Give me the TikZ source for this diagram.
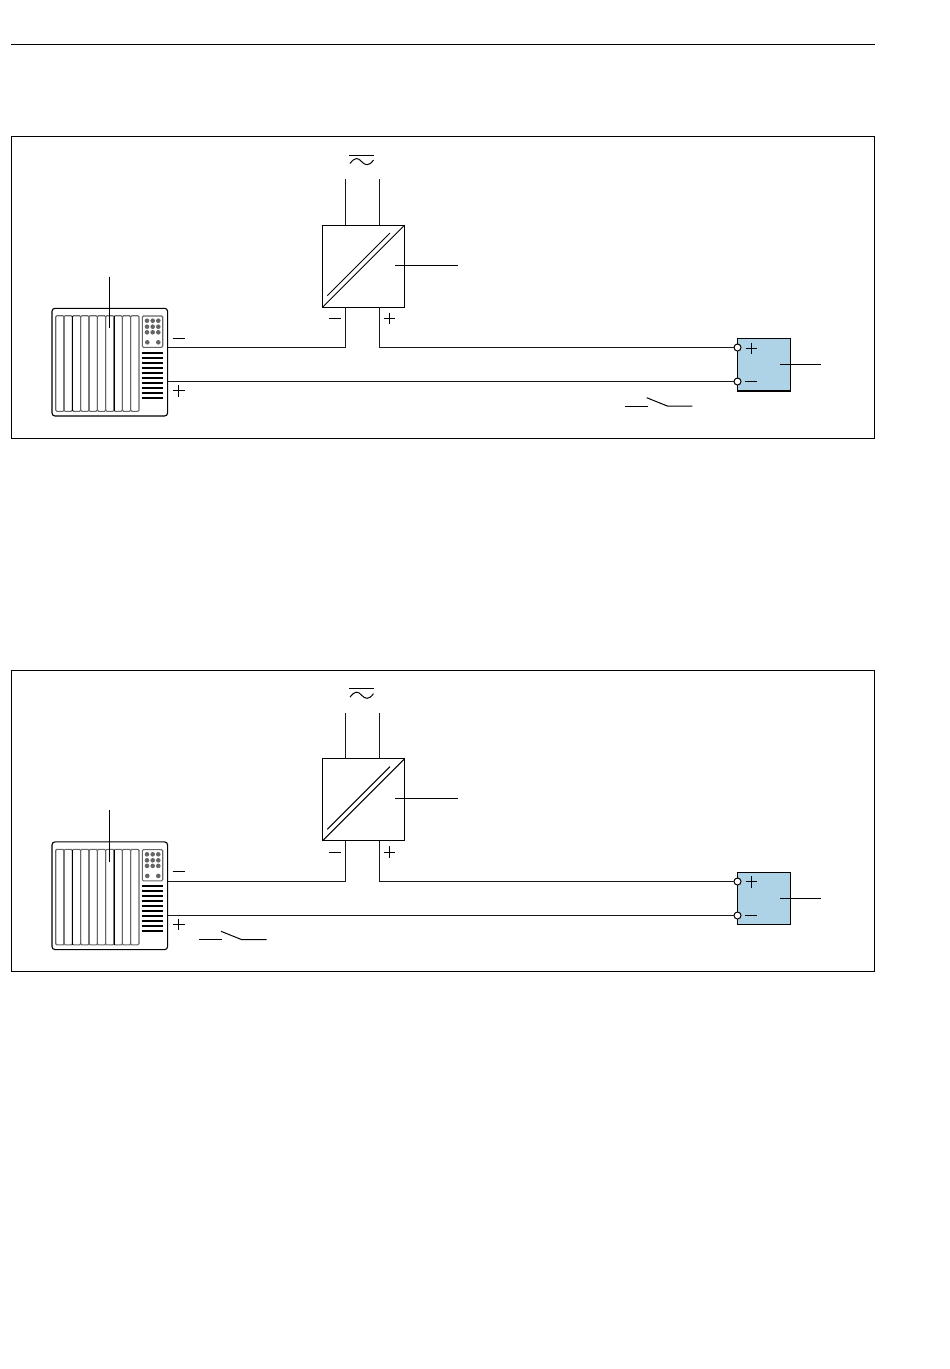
\documentclass[tikz,border=0pt]{standalone}
\definecolor{sensorblue}{RGB}{174,211,231}
\tikzset{
  wire/.style={line width=1.1pt,black!90},
  thin wire/.style={line width=1pt,black},
  frame/.style={draw=black,line width=0.8pt},
  block/.style={draw=black,line width=1.1pt,inner sep=0pt,outer sep=0pt,anchor=north west},
  sensor/.style={block,fill=sensorblue},
  slot/.style={draw=black!60,line width=1.1pt,rounded corners=1.2pt},
  slot dark/.style={draw=black,line width=1.2pt},
  led/.style={circle,fill=black!60,inner sep=0pt,minimum size=4.6pt},
  term/.style={circle,draw=black,fill=white,line width=1pt,inner sep=0pt,minimum size=7pt},
  vent/.style={line width=1.9pt,black}
}
% #1 prefix, #2 vertical offset, #3 switch x offset, #4 fine shift of the wiring
\newcommand{\drawpanel}[4]{%
\begin{scope}[shift={(0,#2)}]
  \node[frame,rectangle,inner sep=0pt,outer sep=0pt,anchor=north west,minimum width=863.6pt,minimum height=301.6pt] (#1frame) at (11,136.4) {};
  % AC supply symbol
  \draw[thin wire] (349.3,155.3) -- (374,155.3);
  \draw[thin wire] (350,163.5) .. controls (355,157) and (358,157.5) .. (361.5,161.5) .. controls (365,165.5) and (369,166.5) .. (373.5,160);
  % converter
  \node[block,minimum width=82pt,minimum height=82pt] (#1conv) at (322.5,225.2) {};
  \coordinate (#1acl) at (345.5,179);
  \coordinate (#1acr) at (379.5,179);
  \draw[wire] (#1acl) -- (#1acl |- #1conv.north);
  \draw[wire] (#1acr) -- (#1acr |- #1conv.north);
  \draw[thin wire] (#1conv.south west) -- (#1conv.north east);
  \draw[thin wire] (327.3,295.7) -- (390,233);
  \coordinate (#1convlead) at (458,265);
  \draw[thin wire] (395,265) -- (#1convlead);
  \draw[thin wire] (329.3,318.7) -- (340.7,318.7);
  \draw[thin wire] (383.5,318.5) -- (395,318.5) (389.3,312.7) -- (389.3,324.3);
  % control system
  \node[block,rounded corners=3pt,minimum width=115.6pt,minimum height=107.7pt] (#1dcs) at (52,308.3) {};
  \foreach \i in {0,...,9} {
    \pgfmathsetmacro{\xa}{55.7+8.33*\i}
    \pgfmathsetmacro{\xb}{\xa+8.33}
    \draw[slot] (\xa,315.7) rectangle (\xb,411.3);
  }
  \draw[slot dark] (72.5,316) -- (72.5,411);
  \draw[slot dark] (114.5,316) -- (114.5,411);
  \draw[slot] (142.3,316) rectangle (162.7,347.3);
  \foreach \xx in {147,152.7,158.3} \foreach \yy in {320.7,326.7,332.3}
    \node[led] at (\xx,\yy) {};
  \node[led] at (147.3,342.3) {};
  \node[led] at (158.3,342.3) {};
  \foreach \yy in {352.7,357.7,...,398}
    \draw[vent] (141.7,\yy) -- (163.3,\yy);
  \coordinate (#1dcslead) at (109.7,276.5);
  \draw[thin wire] (#1dcslead) -- (109.7,328.3);
  \draw[thin wire] (172.7,338) -- (184.7,338);
  \draw[thin wire] (173,390.7) -- (184.5,390.7) (178.7,385) -- (178.7,396.5);
  % field device
  \node[sensor,minimum width=53pt,minimum height=52.5pt] (#1dev) at (737.5,338.5) {};
  \node[term] (#1tp) at (737.5,347.5+#4) {};
  \node[term] (#1tm) at (737.5,381.5+#4) {};
  \draw[thin wire] (745.5,348.3) -- (757,348.3) (751.3,342.5) -- (751.3,354);
  \draw[thin wire] (745.3,381.7) -- (756.7,381.7);
  \coordinate (#1devlead) at (820.5,364.5);
  \draw[thin wire] (780,364.5) -- (#1devlead);
  % wiring
  \coordinate (#1bn) at (345.5,347.5+#4);
  \coordinate (#1bp) at (379.5,347.5+#4);
  \draw[wire] (#1dcs.east |- #1bn) -- (#1bn) -- (#1bn |- #1conv.south);
  \draw[wire] (#1conv.south -| #1bp) -- (#1bp) -- (#1tp);
  \draw[wire] (#1dcs.east |- #1tm) -- (#1tm);
  % switch
  \begin{scope}[shift={(#3,0)}]
    \coordinate (#1swa) at (625,406);
    \coordinate (#1swb) at (648,406);
    \coordinate (#1swc) at (646.7,397.7);
    \coordinate (#1swd) at (667.3,406);
    \coordinate (#1swe) at (692.3,406);
    \draw[thin wire] (#1swa) -- (#1swb);
    \draw[thin wire] (#1swc) -- (#1swd) -- (#1swe);
  \end{scope}
\end{scope}}
\begin{document}
\begin{tikzpicture}[x=1pt,y=-1pt]
  \useasboundingbox (0,0) rectangle (950,1369);
  \coordinate (rulea) at (11,44);
  \coordinate (ruleb) at (875,44);
  \draw[line width=0.9pt,black] (rulea) -- (ruleb);
  \drawpanel{a}{0}{0}{0}
  \drawpanel{b}{533.6}{-425.7}{0.4}
\end{tikzpicture}
\end{document}
